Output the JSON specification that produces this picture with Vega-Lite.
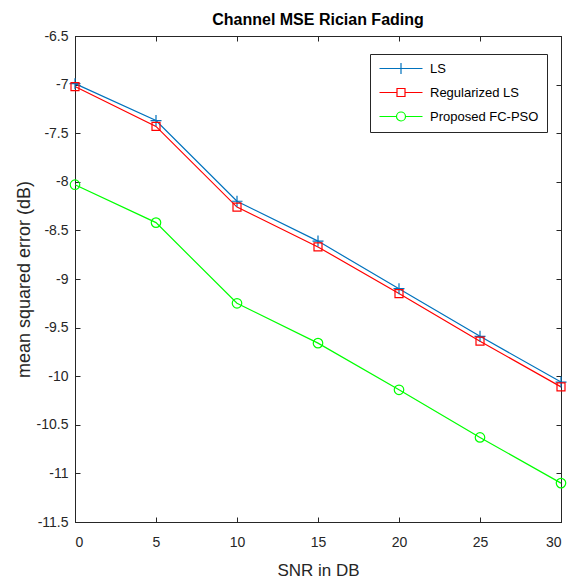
{
  "$schema": "https://vega.github.io/schema/vega-lite/v6.json",
  "autosize": "none",
  "width": 486,
  "height": 486,
  "padding": {"left": 75, "top": 36, "right": 17, "bottom": 60},
  "background": "white",
  "title": {"text": "Channel MSE Rician Fading", "fontSize": 16, "fontWeight": "bold", "anchor": "middle", "offset": 1, "color": "black", "font": "Liberation Sans"},
  "data": {"values": [
    {"snr": 0, "mse": -6.99, "method": "LS"},
    {"snr": 5, "mse": -7.37, "method": "LS"},
    {"snr": 10, "mse": -8.2, "method": "LS"},
    {"snr": 15, "mse": -8.61, "method": "LS"},
    {"snr": 20, "mse": -9.1, "method": "LS"},
    {"snr": 25, "mse": -9.59, "method": "LS"},
    {"snr": 30, "mse": -10.06, "method": "LS"},
    {"snr": 0, "mse": -7.02, "method": "Regularized LS"},
    {"snr": 5, "mse": -7.43, "method": "Regularized LS"},
    {"snr": 10, "mse": -8.26, "method": "Regularized LS"},
    {"snr": 15, "mse": -8.67, "method": "Regularized LS"},
    {"snr": 20, "mse": -9.15, "method": "Regularized LS"},
    {"snr": 25, "mse": -9.64, "method": "Regularized LS"},
    {"snr": 30, "mse": -10.11, "method": "Regularized LS"},
    {"snr": 0, "mse": -8.03, "method": "Proposed FC-PSO"},
    {"snr": 5, "mse": -8.42, "method": "Proposed FC-PSO"},
    {"snr": 10, "mse": -9.25, "method": "Proposed FC-PSO"},
    {"snr": 15, "mse": -9.66, "method": "Proposed FC-PSO"},
    {"snr": 20, "mse": -10.14, "method": "Proposed FC-PSO"},
    {"snr": 25, "mse": -10.63, "method": "Proposed FC-PSO"},
    {"snr": 30, "mse": -11.1, "method": "Proposed FC-PSO"}
  ]},
  "layer": [
    {
      "mark": {"type": "line", "strokeWidth": 1.2},
      "encoding": {
        "x": {"field": "snr", "type": "quantitative", "scale": {"domain": [0, 30], "nice": false, "zero": false},
              "axis": {"orient": "bottom", "values": [0, 5, 10, 15, 20, 25, 30], "format": "d", "title": "SNR in DB", "labelPadding": 18, "titlePadding": 13, "titleFontSize": 17}},
        "y": {"field": "mse", "type": "quantitative", "scale": {"domain": [-11.5, -6.5], "nice": false, "zero": false},
              "axis": {"orient": "left", "values": [-11.5, -11, -10.5, -10, -9.5, -9, -8.5, -8, -7.5, -7, -6.5], "labelExpr": "datum.value + ''", "title": "mean squared error (dB)", "labelPadding": 12, "titlePadding": 3, "titleFontSize": 18}},
        "color": {"field": "method", "type": "nominal", "scale": {"domain": ["LS", "Regularized LS", "Proposed FC-PSO"], "range": ["#0072BD", "#FF0000", "#00FF00"]}, "legend": null},
        "order": {"field": "snr", "type": "quantitative"}
      }
    },
    {
      "mark": {"type": "point", "filled": false, "size": 100, "strokeWidth": 1.2, "opacity": 1},
      "encoding": {
        "x": {"field": "snr", "type": "quantitative", "scale": {"domain": [0, 30], "nice": false, "zero": false},
              "axis": {"orient": "top", "values": [0, 5, 10, 15, 20, 25, 30], "labels": false, "title": null}},
        "y": {"field": "mse", "type": "quantitative", "scale": {"domain": [-11.5, -6.5], "nice": false, "zero": false},
              "axis": {"orient": "right", "values": [-11.5, -11, -10.5, -10, -9.5, -9, -8.5, -8, -7.5, -7, -6.5], "labels": false, "title": null}},
        "color": {"field": "method", "type": "nominal", "scale": {"domain": ["LS", "Regularized LS", "Proposed FC-PSO"], "range": ["#0072BD", "#FF0000", "#00FF00"]}, "legend": null},
        "shape": {"field": "method", "type": "nominal", "scale": {"domain": ["LS", "Regularized LS", "Proposed FC-PSO"], "range": ["M-1.1,0H1.1M0,-1.1V1.1", "M-0.8,-0.8H0.8V0.8H-0.8Z", "M0.95,0A0.95,0.95,0,1,1,-0.95,0A0.95,0.95,0,1,1,0.95,0"]}, "legend": null}
      }
    },
    {
      "data": {"values": []},
      "mark": {"type": "point", "filled": false, "size": 100, "strokeWidth": 1.2, "opacity": 1},
      "encoding": {
        "color": {"field": "method", "type": "nominal", "scale": {"domain": ["LS", "Regularized LS", "Proposed FC-PSO"], "range": ["#0072BD", "#FF0000", "#00FF00"]},
                  "legend": {"orient": "none", "legendX": 295, "legendY": 18, "title": null, "strokeColor": "#262626", "fillColor": "white", "padding": 8, "rowPadding": 9, "labelOffset": 39, "labelFontSize": 13, "labelColor": "black", "labelFont": "Liberation Sans", "symbolSize": 100, "symbolStrokeWidth": 1.2}},
        "shape": {"field": "method", "type": "nominal", "scale": {"domain": ["LS", "Regularized LS", "Proposed FC-PSO"], "range": ["M-1,0H7.6M3.3,-1.1V1.1", "M-1,0H2.5M4.1,0H7.6M2.5,-0.8H4.1V0.8H2.5Z", "M-1,0H2.4M4.2,0H7.6M4.2,0A0.9,0.9,0,1,1,2.4,0A0.9,0.9,0,1,1,4.2,0"]},
                  "legend": {"orient": "none", "legendX": 295, "legendY": 18, "title": null, "strokeColor": "#262626", "fillColor": "white", "padding": 8, "rowPadding": 9, "labelOffset": 39, "labelFontSize": 13, "labelColor": "black", "labelFont": "Liberation Sans", "symbolSize": 100, "symbolStrokeWidth": 1.2}}
      }
    }
  ],
  "resolve": {"axis": {"x": "independent", "y": "independent"}, "scale": {"color": "independent", "shape": "independent"}},
  "config": {
    "font": "Liberation Sans",
    "view": {"stroke": "#262626", "strokeWidth": 1},
    "axis": {"grid": false, "domainColor": "#262626", "tickColor": "#262626", "labelColor": "#262626", "titleColor": "#262626", "labelFontSize": 14, "titleFontWeight": "normal", "tickSize": -5, "labelFont": "Liberation Sans", "titleFont": "Liberation Sans"}
  }
}
